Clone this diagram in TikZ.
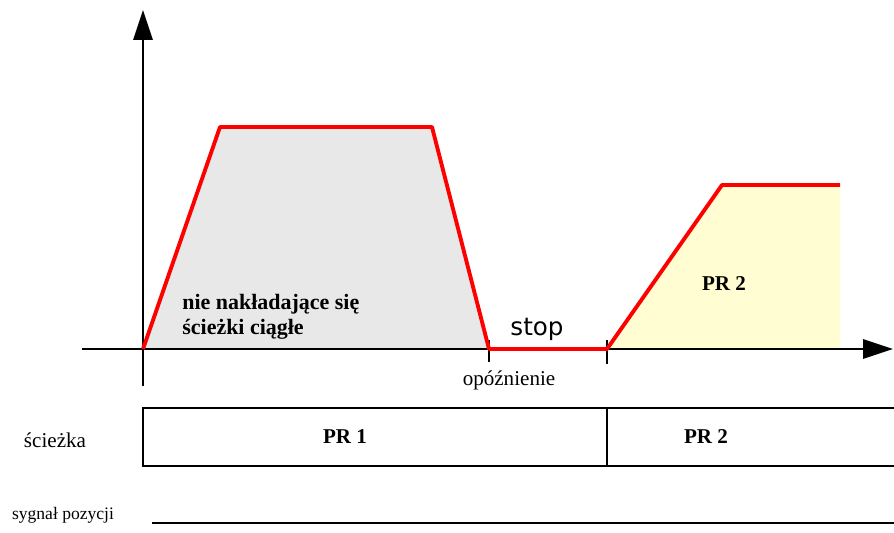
\documentclass[tikz,border=0pt]{standalone}
\usepackage{fontspec}
\setmainfont{Liberation Serif}
\newfontfamily\stopfont{DejaVu Sans}
\usetikzlibrary{arrows.meta, positioning}

\begin{document}
\begin{tikzpicture}[x=0.02cm, y=-0.02cm,
    axis/.style={line width=1pt, -{Triangle[width=11pt, length=17pt]}},
    profile/.style={red, line width=2.2pt, line join=round},
    tick/.style={line width=0.8pt},
    frame/.style={line width=0.9pt},
    boldtxt/.style={font=\bfseries\fontsize{12}{14}\selectfont},
    plaintxt/.style={font=\fontsize{12}{14}\selectfont}]
    \useasboundingbox (0,0) rectangle (894,532);

    % corners of the two profiles
    \coordinate (o) at (143,349);
    \coordinate (a1) at (220,127);
    \coordinate (a2) at (432,127);
    \coordinate (a3) at (489,349);
    \coordinate (b0) at (607,349);
    \coordinate (b1) at (722,185);
    \coordinate (b2) at (840,185);
    \coordinate (b3) at (840,349);

    \fill[black!9] (o) -- (a1) -- (a2) -- (a3) -- cycle;
    \fill[yellow!18] (b0) -- (b1) -- (b2) -- (b3) -- cycle;

    % axes
    \coordinate (xs) at (82,349);
    \coordinate (xe) at (893,349);
    \coordinate (ys) at (143,386);
    \coordinate (ye) at (143,10);
    \draw[axis] (xs) -- (xe);
    \draw[axis] (ys) -- (ye);
    \draw[tick] (a3) ++(0,-9) -- ++(0,22);
    \draw[tick] (b0) ++(0,-9) -- ++(0,24);

    \draw[profile] (o) -- (a1) -- (a2) -- (a3) -- (b0) -- (b1) -- (b2);

    \node[boldtxt, font=\bfseries\fontsize{12.5}{14}\selectfont, align=left, anchor=north west, inner sep=0pt] (nonover) at (182,294) {nie nakładające się\\ścieżki ciągłe};
    \node[font=\stopfont\fontsize{14}{16}\selectfont] (stop) at (537,329) {stop};
    \node[plaintxt] (delay) at (509,380) {opóźnienie};
    \node[boldtxt] (pr2up) at (724,284) {PR 2};

    % path bar
    \coordinate (t0) at (143,408);
    \coordinate (t1) at (894,408);
    \coordinate (u0) at (143,466);
    \coordinate (u1) at (894,466);
    \coordinate (d0) at (607,408);
    \coordinate (d1) at (607,466);
    \draw[frame] (t1) -- (t0) -- (u0) -- (u1);
    \draw[frame] (d0) -- (d1);
    \node[boldtxt] (pr1) at (345,437) {PR 1};
    \node[boldtxt] (pr2) at (706,437) {PR 2};
    \node[plaintxt] (path) at (55,440) {ścieżka};

    % position signal
    \coordinate (s0) at (152,523);
    \coordinate (s1) at (894,523);
    \draw[frame] (s0) -- (s1);
    \node[font=\fontsize{10}{12}\selectfont] (signal) at (63,515) {sygnał pozycji};
\end{tikzpicture}
\end{document}
